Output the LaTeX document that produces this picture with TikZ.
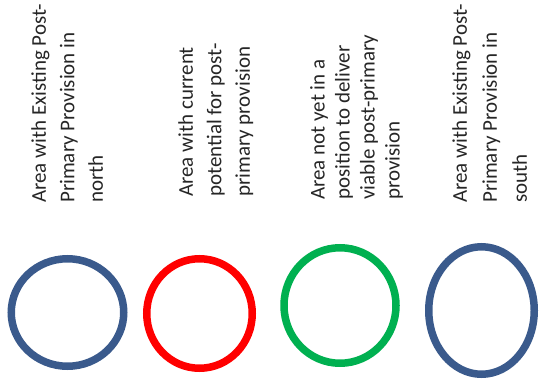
\documentclass[tikz,border=0pt]{standalone}
\usepackage{fontspec}
\setmainfont{Carlito}
\usetikzlibrary{shapes.geometric}
\definecolor{ringblue}{HTML}{3A5A8C}
\definecolor{ringred}{HTML}{FF0000}
\definecolor{ringgreen}{HTML}{00B050}
\definecolor{labelgrey}{HTML}{262626}
\tikzset{
  ring/.style={ellipse, draw, line width=7.5pt, inner sep=0pt},
  vlabel/.style={rotate=90, anchor=north west, align=left, inner sep=0pt,
    text=labelgrey, font=\fontsize{21}{28.5}\selectfont}
}
\begin{document}
\begin{tikzpicture}[x=1pt,y=-1pt]
\useasboundingbox (0,0) rectangle (540,382);
\node[vlabel] (t1) at (31,203) {Area with Existing Post-\\Primary Provision in\\north};
\node[vlabel] (t2) at (178,197) {Area with current\\potential for post-\\primary provision};
\node[vlabel, font=\fontsize{21}{25}\selectfont] (t3) at (310,200) {Area not yet in a\\position to deliver\\viable post-primary\\provision};
\node[vlabel, font=\fontsize{21}{30}\selectfont] (t4) at (452,203) {Area with Existing Post-\\Primary Provision in\\south};
\node[ring, draw=ringblue, minimum width=112.5pt, minimum height=107.5pt] (c1) at (67.5,312.5) {};
\node[ring, draw=ringred, minimum width=105.5pt, minimum height=109.5pt] (c2) at (199.5,313.5) {};
\node[ring, draw=ringgreen, minimum width=112pt, minimum height=115.5pt] (c3) at (340,305.5) {};
\node[ring, draw=ringblue, minimum width=105.5pt, minimum height=127.5pt] (c4) at (481.5,310.5) {};
\end{tikzpicture}
\end{document}
